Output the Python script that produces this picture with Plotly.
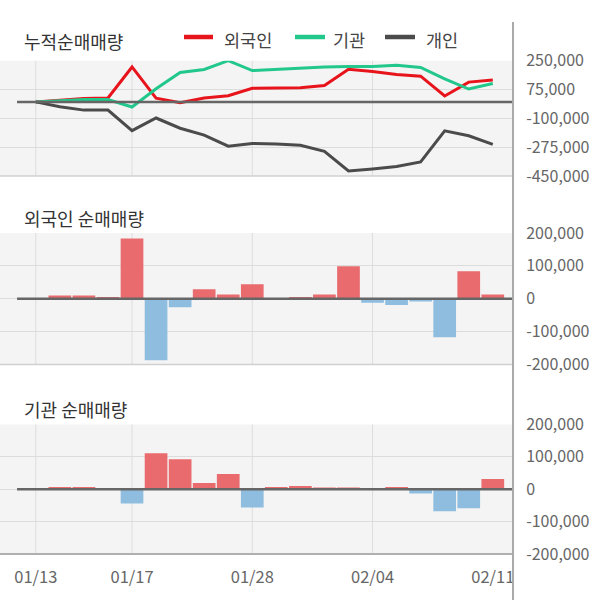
import plotly.graph_objects as go

dates = ["01/13", "01/14", "01/15", "01/16", "01/17", "01/20", "01/21", "01/22", "01/23", "01/28",
         "01/29", "01/30", "01/31", "02/03", "02/04", "02/05", "02/06", "02/07", "02/10", "02/11"]

# cumulative net buying
cum_foreign = [0, 10000, 20000, 24000, 212000, 22000, -5000, 24000, 37000, 82000,
               82000, 86000, 99000, 198000, 185000, 166000, 156000, 36000, 120000, 133000]
cum_inst = [0, 7000, 14000, 14000, -31000, 80000, 178000, 197000, 250000, 190000,
            197000, 207000, 211000, 215000, 215000, 222000, 209000, 140000, 78000, 112000]
cum_indiv = [0, -29000, -50000, -50000, -175000, -98000, -160000, -202000, -269000, -252000,
             -256000, -264000, -300000, -419000, -407000, -392000, -365000, -176000, -206000, -258000]

# daily net buying
foreign_daily = [0, 10000, 10000, 4000, 183000, -187000, -26000, 29000, 13000, 44000,
                 0, 4000, 13000, 99000, -12000, -19000, -8000, -117000, 84000, 13000]
inst_daily = [0, 7000, 7000, 0, -44000, 111000, 93000, 19000, 47000, -56000,
              7000, 10000, 4000, 4000, 0, 7000, -13000, -68000, -59000, 32000]

top_ticks = [250000, 75000, -100000, -275000, -450000]
top_ticktext = ["250,000", "75,000", "-100,000", "-275,000", "-450,000"]
bar_ticks = [200000, 100000, 0, -100000, -200000]
bar_ticktext = ["200,000", "100,000", "0", "-100,000", "-200,000"]
x_ticks = ["01/13", "01/17", "01/28", "02/04", "02/11"]
grid_dates = ["01/13", "01/17", "01/28", "02/04"]

series_names = ["외국인", "기관", "개인"]
titles = ["누적순매매량", "외국인 순매매량", "기관 순매매량"]

FONT = "Noto Sans CJK KR"
RED_LINE = "#e8141c"
GREEN_LINE = "#22c88b"
DARK_LINE = "#4b4b4b"
RED_BAR = "#e96b6e"
BLUE_BAR = "#8fbde0"
BG = "#f4f4f4"
GRID = "#dcdcdc"
line_colors = [RED_LINE, GREEN_LINE, DARK_LINE]

fig = go.Figure()
for vals, name, col in zip([cum_foreign, cum_inst, cum_indiv], series_names, line_colors):
    fig.add_trace(go.Scatter(x=dates, y=vals, name=name, mode="lines", showlegend=False,
                             line=dict(color=col, width=3), xaxis="x", yaxis="y"))

def bar_colors(vals):
    return [RED_BAR if v >= 0 else BLUE_BAR for v in vals]

fig.add_trace(go.Bar(x=dates, y=foreign_daily, marker=dict(color=bar_colors(foreign_daily), line=dict(width=0)),
                     showlegend=False, xaxis="x", yaxis="y2"))
fig.add_trace(go.Bar(x=dates, y=inst_daily, marker=dict(color=bar_colors(inst_daily), line=dict(width=0)),
                     showlegend=False, xaxis="x", yaxis="y3"))

H_PLOT = 554.0
W_PLOT = 513.0
def py(px):
    return (H_PLOT - px) / H_PLOT
def pxx(px):
    return px / W_PLOT

dom1 = [py(176), py(60.7)]
dom2 = [py(364.5), py(233)]
dom3 = [0, py(424.5)]

ytick_common = dict(side="right", showline=False, zeroline=False, gridcolor=GRID, gridwidth=1,
                    ticks="outside", ticklen=9, tickcolor="rgba(0,0,0,0)",
                    tickfont=dict(family=FONT, size=16, color="#666666"), fixedrange=True)

idx = {d: i for i, d in enumerate(dates)}
x_left = -1.489
x_right = 19.84

fig.update_layout(
    width=600, height=604,
    margin=dict(l=0, r=87, t=0, b=50, autoexpand=False),
    paper_bgcolor="white", plot_bgcolor="rgba(0,0,0,0)",
    bargap=0.056,
    showlegend=False,
    xaxis=dict(type="category", range=[x_left, x_right], anchor="y3", showgrid=False,
               showline=False, zeroline=False, tickvals=x_ticks, ticktext=x_ticks,
               ticks="outside", ticklen=8, tickcolor="rgba(0,0,0,0)",
               tickfont=dict(family=FONT, size=16.5, color="#666666"), fixedrange=True),
    yaxis=dict(domain=dom1, range=[-450000, 250000], tickvals=top_ticks, ticktext=top_ticktext,
               anchor="x", **ytick_common),
    yaxis2=dict(domain=dom2, range=[-200000, 200000], tickvals=bar_ticks, ticktext=bar_ticktext,
                anchor="x", **ytick_common),
    yaxis3=dict(domain=dom3, range=[-200000, 200000], tickvals=bar_ticks, ticktext=bar_ticktext,
                anchor="x", **ytick_common),
    font=dict(family=FONT),
)

shapes = []
for yd in ["y domain", "y2 domain", "y3 domain"]:
    shapes.append(dict(type="rect", xref="paper", yref=yd, x0=0, x1=1, y0=0, y1=1,
                       fillcolor=BG, line=dict(width=0), layer="below"))
    for d in grid_dates:
        shapes.append(dict(type="line", xref="x", yref=yd, x0=idx[d], x1=idx[d], y0=0, y1=1,
                           line=dict(color=GRID, width=1), layer="below"))
# zero lines
for yr in ["y", "y2", "y3"]:
    shapes.append(dict(type="line", xref="x", yref=yr, x0=-0.78, x1=x_right, y0=0, y1=0,
                       line=dict(color="#666666", width=2.5), layer="above"))
# panel bottom borders
shapes.append(dict(type="line", xref="paper", yref="y domain", x0=0, x1=1, y0=0, y1=0,
                   line=dict(color="#d0d0d0", width=1.5)))
shapes.append(dict(type="line", xref="paper", yref="y2 domain", x0=0, x1=1, y0=0, y1=0,
                   line=dict(color="#d0d0d0", width=1.5)))
shapes.append(dict(type="line", xref="paper", yref="y3 domain", x0=0, x1=1, y0=0, y1=0,
                   line=dict(color="#b0b0b0", width=2)))
# right vertical axis line
shapes.append(dict(type="line", xref="paper", yref="paper", x0=1, x1=1, y0=py(22), y1=py(600),
                   line=dict(color="#aaaaaa", width=2)))

# manual legend
legend_line_x = [(184, 213), (295, 325), (385, 415)]
legend_text_x = [221.5, 330.5, 423.5]
for (a, b), tx, name, col in zip(legend_line_x, legend_text_x, series_names, line_colors):
    shapes.append(dict(type="line", xref="paper", yref="paper", x0=pxx(a), x1=pxx(b),
                       y0=py(37), y1=py(37), line=dict(color=col, width=4.5)))
    fig.add_annotation(text=name, xref="paper", yref="paper", x=pxx(tx), y=py(39.5),
                       xanchor="left", yanchor="middle", showarrow=False,
                       font=dict(family=FONT, size=17.5, color="#444444"))
fig.update_layout(shapes=shapes)

for t, yp in zip(titles, [40.5, 218, 409]):
    fig.add_annotation(text=t, xref="paper", yref="paper", x=21.5/513, y=py(yp),
                       xanchor="left", yanchor="middle", showarrow=False,
                       font=dict(family=FONT, size=18, color="#333333"))

fig.write_html("out.html", config={"displayModeBar": False})
